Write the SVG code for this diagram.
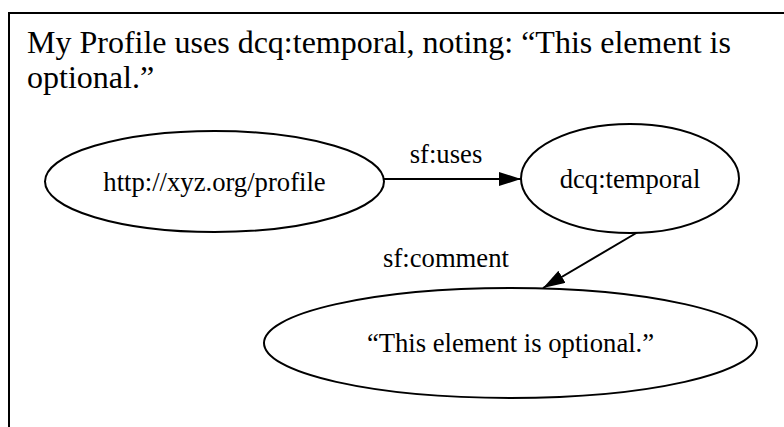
<svg xmlns="http://www.w3.org/2000/svg" width="784" height="427" viewBox="0 0 784 427">
  <style>
    .frame { fill: none; stroke: #000; stroke-width: 2; }
    .node ellipse { fill: #fff; stroke: #000; stroke-width: 2; }
    .label { font-family: "Liberation Serif", "Times New Roman", serif; font-size: 26.67px; fill: #000; }
    .title { font-family: "Liberation Serif", "Times New Roman", serif; font-size: 32px; fill: #000; }
    .edge { fill: none; stroke: #000; stroke-width: 2; }
  </style>
  <defs>
    <marker id="arrow" viewBox="0 0 22 14" refX="22" refY="7" markerWidth="22" markerHeight="14" markerUnits="userSpaceOnUse" orient="auto">
      <path d="M0,0 L22,7 L0,14 Z" fill="#000"/>
    </marker>
  </defs>
  <rect width="784" height="427" fill="#fff"/>

  <!-- open frame: top and left edges only -->
  <path class="frame" d="M9,427 L9,13 L784,13"/>

  <text class="title" x="27" y="53">My Profile uses dcq:temporal, noting: “This element is</text>
  <text class="title" x="27" y="88">optional.”</text>

  <g id="connectors">
    <line class="edge" x1="384" y1="179" x2="521" y2="179" marker-end="url(#arrow)"/>
    <text class="label" x="446" y="163" text-anchor="middle">sf:uses</text>
    <line class="edge" x1="638" y1="232" x2="543" y2="288" marker-end="url(#arrow)"/>
    <text class="label" x="446" y="267" text-anchor="middle">sf:comment</text>
  </g>

  <g id="profile" class="node">
    <ellipse cx="214.5" cy="181.5" rx="169.5" ry="50.5"/>
    <text class="label" x="214.5" y="191" text-anchor="middle">http://xyz.org/profile</text>
  </g>

  <g id="temporal" class="node">
    <ellipse cx="630" cy="178.5" rx="109" ry="54.5"/>
    <text class="label" x="630" y="188" text-anchor="middle">dcq:temporal</text>
  </g>

  <g id="comment" class="node">
    <ellipse cx="510.5" cy="343" rx="246.5" ry="55"/>
    <text class="label" x="510.5" y="352" text-anchor="middle">“This element is optional.”</text>
  </g>
</svg>
